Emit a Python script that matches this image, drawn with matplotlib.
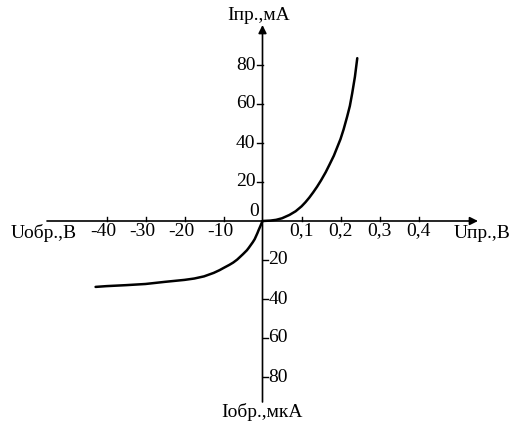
import numpy as np
import matplotlib.pyplot as plt

plt.rcParams['font.family'] = ['Liberation Serif', 'DejaVu Serif']

# прямая ветвь: U, В -> I, мА
u_pr = [0.0, 0.02, 0.035, 0.05, 0.069, 0.085, 0.1, 0.11, 0.12, 0.13, 0.14, 0.15, 0.162,
        0.172, 0.183, 0.19, 0.2, 0.208, 0.217, 0.224, 0.23, 0.237, 0.243]
i_pr = [0.0, 0.2, 0.6, 1.4, 3.1, 5.0, 7.5, 9.6, 12.0, 14.7, 17.6, 20.8, 25.0,
        29.0, 33.5, 37.0, 42.0, 47.0, 53.5, 59.0, 65.5, 74.0, 83.5]

# обратная ветвь: U, В -> I, мкА
u_obr = [-42.8, -40, -35, -30, -25, -20, -17.5, -15, -12.5, -11, -10, -8.5, -7.5, -6.5,
         -5.8, -5, -4, -3.5, -3, -2.5, -2, -1.3, -1, -0.5, 0.0]
i_obr = [-33.8, -33.4, -32.9, -32.3, -31.2, -30.2, -29.5, -28.4, -26.6, -25.2, -24.1, -22.5,
         -21.3, -19.8, -18.5, -17.0, -15.0, -13.7, -12.3, -10.9, -9.3, -6.2, -4.7, -2.4, 0.0]

# подписи делений
x_pr_ticks = [0.1, 0.2, 0.3, 0.4]
x_pr_labels = ['0,1', '0,2', '0,3', '0,4']
x_obr_ticks = [-10, -20, -30, -40]
y_pr_ticks = [20, 40, 60, 80]
y_obr_ticks = [-20, -40, -60, -80]

# масштаб: одно деление = 0,1 В / 10 В по оси x, 20 мА / 20 мкА по оси y
sx_pr = 0.1
sx_obr = 10.0
sy = 20.0

fig = plt.figure(figsize=(5.11, 4.21), dpi=100)
ax = fig.add_axes([0, 0, 1, 1])
px = 39.0  # пикселей на деление
ax.set_xlim(-262.5 / px, (511 - 262.5) / px)
ax.set_ylim(-(421 - 221) / px, 221 / px)
ax.axis('off')

# оси со стрелками
ax.annotate('', xy=(478 / px - 262.5 / px, 0), xytext=(47 / px - 262.5 / px, 0),
            arrowprops=dict(arrowstyle='-|>', lw=1.2, color='k', mutation_scale=12, shrinkA=0, shrinkB=0))
ax.annotate('', xy=(0, (221 - 25) / px), xytext=(0, -(402 - 221) / px),
            arrowprops=dict(arrowstyle='-|>', lw=1.2, color='k', mutation_scale=12, shrinkA=0, shrinkB=0))

tl = 4 / px
fs = 14

# деления оси x
for t, lab in zip(x_pr_ticks, x_pr_labels):
    x = t / sx_pr
    ax.plot([x, x], [0, tl], color='k', lw=1)
    ax.text(x, -10 / px, lab, ha='center', va='center', fontsize=fs)
for t in x_obr_ticks:
    x = t / sx_obr
    ax.plot([x, x], [0, tl], color='k', lw=1)
    ax.text(x - 3 / px, -10 / px, '-' + str(abs(t)), ha='center', va='center', fontsize=fs)

# деления оси y
for t in y_pr_ticks:
    y = t / sy
    ax.plot([-6 / px, 0], [y, y], color='k', lw=1)
    ax.text(-7 / px, y, str(t), ha='right', va='center', fontsize=fs)
for t in y_obr_ticks:
    y = t / sy
    ax.plot([0, 5 / px], [y, y], color='k', lw=1)
    ax.text(6 / px, y, str(abs(t)), ha='left', va='center', fontsize=fs)

ax.text(-3 / px, 10 / px, '0', ha='right', va='center', fontsize=fs)

# подписи осей
ax.text(-4 / px, (221 - 16) / px, 'Iпр.,мА', ha='center', va='center', fontsize=fs)
ax.text(0, -(412 - 221) / px, 'Iобр.,мкА', ha='center', va='center', fontsize=fs)
ax.text((44 - 262.5) / px, -12 / px, 'Uобр.,B', ha='center', va='center', fontsize=fs)
ax.text((482 - 262.5) / px, -12 / px, 'Uпр.,B', ha='center', va='center', fontsize=fs)

# кривые
ax.plot(np.array(u_pr) / sx_pr, np.array(i_pr) / sy, color='k', lw=1.8, solid_capstyle='round')
ax.plot(np.array(u_obr) / sx_obr, np.array(i_obr) / sy, color='k', lw=1.8, solid_capstyle='round')

fig.savefig('out.png', dpi=100)
